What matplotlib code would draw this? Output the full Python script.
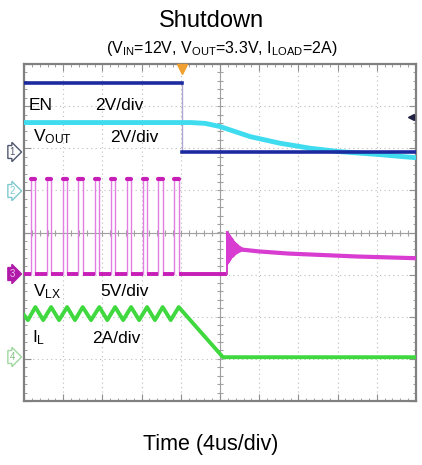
import matplotlib
matplotlib.use("Agg")
import matplotlib.pyplot as plt
import numpy as np

plt.rcParams["font.family"] = ["Liberation Sans", "DejaVu Sans"]
plt.rcParams["mathtext.default"] = "regular"

# time axis in us (4us/div, 10 div), vertical axis in divisions (8 div)
# channel ground level (div) and scale (units/div)
en_gnd, en_scale = 1.91, 2.0
vout_gnd, vout_scale = 0.99, 2.0
vlx_gnd, vlx_scale = -0.99, 5.0
il_gnd, il_scale = -2.96, 2.0

# EN (V)
en_t = [0.0, 16.1, 16.1, 40.0]
en_v = [3.3, 3.3, 0.0, 0.0]

# VOUT (V)
vout_t = [0.0, 17.0, 18.5, 20.0, 23.1, 26.1, 29.2, 32.2, 36.0, 40.0]
vout_v = [3.24, 3.24, 3.2, 3.05, 2.57, 2.26, 2.02, 1.86, 1.73, 1.57]

# VLX (V): switching pulses, then ringing and tail following VOUT
vlx_rise = [0.71, 2.32, 3.95, 5.54, 7.24, 8.85, 10.48, 12.11, 13.70, 15.34]
vlx_on = 0.45
vlx_high = 11.3
vlx_jump = 20.7
ring_t = [20.70, 20.76, 20.82, 20.88, 20.94, 21.00, 21.06, 21.12, 21.18, 21.24,
          21.30, 21.36, 21.42, 21.48, 21.55, 21.62, 21.69, 21.76, 21.84, 21.92,
          22.00, 22.10, 22.20, 22.30, 22.40]
ring_v = [5.0, 1.2, 4.9, 1.4, 4.7, 1.6, 4.5, 1.8, 4.3, 2.0,
          4.1, 2.1, 3.9, 2.25, 3.75, 2.4, 3.6, 2.5, 3.45, 2.6,
          3.3, 2.7, 3.15, 2.8, 2.95]
vlx_tail_t = [22.4, 24.0, 27.0, 30.0, 34.0, 37.0, 40.0]
vlx_tail_v = [2.9, 2.7, 2.45, 2.3, 2.1, 2.0, 1.9]

# IL (A)
il_t = [0.0, 0.40, 1.16, 1.96, 2.77, 3.58, 4.40, 5.20, 5.99, 6.84, 7.69,
        8.50, 9.30, 10.12, 10.93, 11.75, 12.56, 13.36, 14.15, 14.97, 15.79,
        20.3, 40.0]
il_v = [2.0, 1.76, 2.38, 1.76, 2.38, 1.76, 2.38, 1.76, 2.38, 1.76, 2.38,
        1.76, 2.38, 1.76, 2.38, 1.76, 2.38, 1.76, 2.38, 1.76, 2.38,
        0.0, 0.0]

W, H = 422, 465
fig = plt.figure(figsize=(W / 100, H / 100), dpi=100)
ax = fig.add_axes([24 / W, 1 - 401 / H, 392 / W, 337 / H])


def px(x, y):
    return x / W, 1 - y / H


def to_div(vals, gnd, scale):
    return gnd + np.array(vals) / scale


ax.set_xlim(0, 40)
ax.set_ylim(-4, 4)

# graticule
for xv in np.arange(4, 40, 4):
    ax.axvline(xv, color="#bcbcbc", lw=0.8, ls=(0, (1, 3)), zorder=0)
for yv in np.arange(-3, 4, 1):
    ax.axhline(yv, color="#bcbcbc", lw=0.8, ls=(0, (1, 3)), zorder=0)
ax.axvline(20, color="#a0a0a0", lw=0.8, zorder=0)
ax.axhline(0, color="#a0a0a0", lw=0.8, zorder=0)
ax.plot(np.arange(0, 40.01, 0.8), np.zeros(51), ls="none", marker="|",
        ms=4, color="#a0a0a0", mew=0.8, zorder=0)
ax.plot(np.full(41, 20.0), np.arange(-4, 4.01, 0.2), ls="none", marker="_",
        ms=4, color="#a0a0a0", mew=0.8, zorder=0)

ax.set_xticks(np.arange(0, 41, 4))
ax.set_yticks(np.arange(-4, 5, 1))
ax.set_xticks(np.arange(0, 40.01, 0.8), minor=True)
ax.set_yticks(np.arange(-4, 4.01, 0.2), minor=True)
ax.tick_params(which="both", direction="in", top=True, right=True,
               labelbottom=False, labelleft=False, color="#909090")
ax.tick_params(which="major", length=5, width=0.8)
ax.tick_params(which="minor", length=2.5, width=0.6)
for s in ax.spines.values():
    s.set_color("#808080")
    s.set_linewidth(1.6)

# VOUT
ax.plot(vout_t, to_div(vout_v, vout_gnd, vout_scale), color="#3fdcf0",
        lw=3.5, solid_capstyle="butt", zorder=3)

# EN
ax.plot(en_t[:2], to_div(en_v[:2], en_gnd, en_scale), color="#1c2aa0",
        lw=2.6, zorder=4)
ax.plot(en_t[1:3], to_div(en_v[1:3], en_gnd, en_scale), color="#b0a8d0",
        lw=1.0, zorder=2)
ax.plot(en_t[2:], to_div(en_v[2:], en_gnd, en_scale), color="#1c2aa0",
        lw=2.6, zorder=4)

# VLX
sw_t, sw_v = [0.0], [0.0]
for r in vlx_rise:
    sw_t += [r, r, r + vlx_on, r + vlx_on]
    sw_v += [0.0, vlx_high, vlx_high, 0.0]
ax.plot(sw_t, to_div(sw_v, vlx_gnd, vlx_scale), color="#e27ee2", lw=1.0,
        zorder=5)
lows = [0.0] + [r + vlx_on for r in vlx_rise]
highs = vlx_rise + [vlx_jump]
for a, b in zip(lows, highs):
    ax.plot([a, b], to_div([0, 0], vlx_gnd, vlx_scale), color="#c81eb8",
            lw=2.8, solid_capstyle="butt", zorder=5)
for r in vlx_rise:
    ax.plot([r, r + vlx_on], to_div([vlx_high, vlx_high], vlx_gnd, vlx_scale),
            color="#c81eb8", lw=3.0, solid_capstyle="round", zorder=5)
ax.plot([vlx_jump, vlx_jump], to_div([0, ring_v[0]], vlx_gnd, vlx_scale),
        color="#d040c8", lw=1.4, zorder=5)
ax.plot(ring_t, to_div(ring_v, vlx_gnd, vlx_scale), color="#d83cd0",
        lw=1.4, zorder=5)
ax.plot(vlx_tail_t, to_div(vlx_tail_v, vlx_gnd, vlx_scale), color="#d83cd0",
        lw=3.0, zorder=5)

# IL
ax.plot(il_t, to_div(il_v, il_gnd, il_scale), color="#3fd83f", lw=2.8,
        zorder=5)

# trigger markers
ax.plot(16.1, 3.88, marker="v", color="#f0a030", ms=7, clip_on=False,
        zorder=6)
ax.plot(39.5, 2.74, marker="<", color="#202040", ms=4, clip_on=False,
        zorder=6)

# channel markers on the left
marks = [("1", 152, "#505870", "white", "#505870"),
         ("2", 191, "#80c8d0", "white", "#80c8d0"),
         ("3", 274, "#b01aa8", "#b01aa8", "#f0c0f0"),
         ("4", 357, "#a0d8a0", "white", "#80c080")]
for lab, yp, ec, fc, tc in marks:
    fig.text(*px(12, yp), lab, fontsize=7, color=tc, ha="center",
             va="center",
             bbox=dict(boxstyle="rarrow,pad=0.15", fc=fc, ec=ec, lw=1.0))

# channel labels
lab_fs = 12.5
fig.text(*px(29, 105), "EN", fontsize=lab_fs, va="center")
fig.text(*px(95, 105), "2V/div", fontsize=lab_fs, va="center")
fig.text(*px(33, 137), "V$_{OUT}$", fontsize=lab_fs, va="center")
fig.text(*px(110, 137), "2V/div", fontsize=lab_fs, va="center")
fig.text(*px(33, 292), "V$_{LX}$", fontsize=lab_fs, va="center")
fig.text(*px(100, 292), "5V/div", fontsize=lab_fs, va="center")
fig.text(*px(32, 338), "I$_{L}$", fontsize=lab_fs, va="center")
fig.text(*px(92, 338), "2A/div", fontsize=lab_fs, va="center")

# titles
fig.text(*px(211, 21), "Shutdown", fontsize=17, ha="center", va="center")
fig.text(*px(222, 49),
         "(V$_{IN}$=12V, V$_{OUT}$=3.3V, I$_{LOAD}$=2A)",
         fontsize=11.5, ha="center", va="center")
fig.text(*px(211, 444), "Time (4us/div)", fontsize=15.5, ha="center",
         va="center")

fig.savefig("out.png", dpi=100)
